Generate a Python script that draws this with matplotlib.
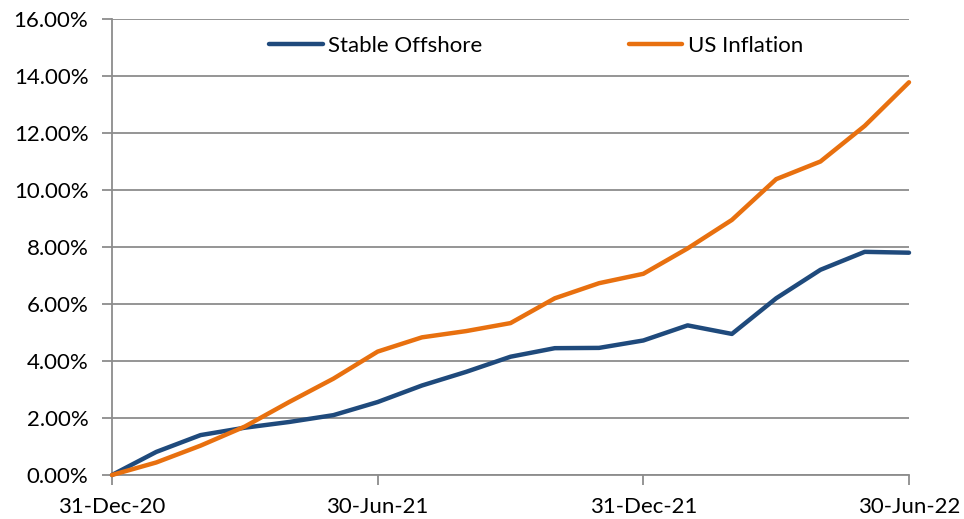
import matplotlib
matplotlib.use("Agg")
import matplotlib.pyplot as plt
from matplotlib.ticker import FuncFormatter

months = ["31-Dec-20", "Jan-21", "Feb-21", "Mar-21", "Apr-21", "May-21", "30-Jun-21",
          "Jul-21", "Aug-21", "Sep-21", "Oct-21", "Nov-21", "31-Dec-21",
          "Jan-22", "Feb-22", "Mar-22", "Apr-22", "May-22", "30-Jun-22"]
stable_offshore = [0.0, 0.81, 1.40, 1.66, 1.86, 2.10, 2.56, 3.14, 3.62, 4.15, 4.45, 4.46,
                   4.72, 5.25, 4.95, 6.20, 7.20, 7.83, 7.80]
us_inflation = [0.0, 0.44, 1.03, 1.70, 2.56, 3.38, 4.33, 4.83, 5.05, 5.33, 6.20, 6.73,
                7.06, 7.95, 8.95, 10.38, 11.00, 12.25, 13.78]
tick_idx = [0, 6, 12, 18]
tick_labels = ["31-Dec-20", "30-Jun-21", "31-Dec-21", "30-Jun-22"]
yticks = [0, 2, 4, 6, 8, 10, 12, 14, 16]

plt.rcParams['font.family'] = ['Lato', 'DejaVu Sans']

fig = plt.figure(figsize=(9.64, 5.19), dpi=100)
ax = fig.add_axes([112/964, 1 - 475/519, (909-112)/964, (475-19)/519])

x = list(range(len(months)))
ax.plot(x, stable_offshore, color="#1F4A7C", lw=3.2, label="Stable Offshore",
        solid_capstyle="round", solid_joinstyle="round", clip_on=False, zorder=3)
ax.plot(x, us_inflation, color="#E8700F", lw=3.2, label="US Inflation",
        solid_capstyle="round", solid_joinstyle="round", clip_on=False, zorder=3)

ax.set_xlim(0, 18)
ax.set_ylim(0, 16)
ax.set_yticks(yticks)
ax.yaxis.set_major_formatter(FuncFormatter(lambda v, p: f"{v:.2f}%"))
ax.set_xticks(tick_idx)
ax.set_xticklabels(tick_labels)

ax.grid(axis="y", color="#8C8C8C", lw=1.3)
ax.set_axisbelow(True)
for s in ["top", "right"]:
    ax.spines[s].set_visible(False)
for s in ["left", "bottom"]:
    ax.spines[s].set_color("#8C8C8C")
    ax.spines[s].set_linewidth(1.3)

ax.tick_params(axis="y", direction="out", length=7, width=1.3, color="#8C8C8C",
               labelsize=16, pad=10, labelcolor="#000000")
ax.tick_params(axis="x", direction="out", length=7, width=1.3, color="#8C8C8C",
               labelsize=16, pad=9, labelcolor="#000000")

leg = ax.legend(loc="upper left", bbox_to_anchor=(145/797, 0.99), ncol=2, frameon=False,
                fontsize=16, handlelength=2.4, handletextpad=0.25, columnspacing=6.6,
                borderaxespad=0.25, borderpad=0.3)

fig.savefig("out.png", dpi=100)
